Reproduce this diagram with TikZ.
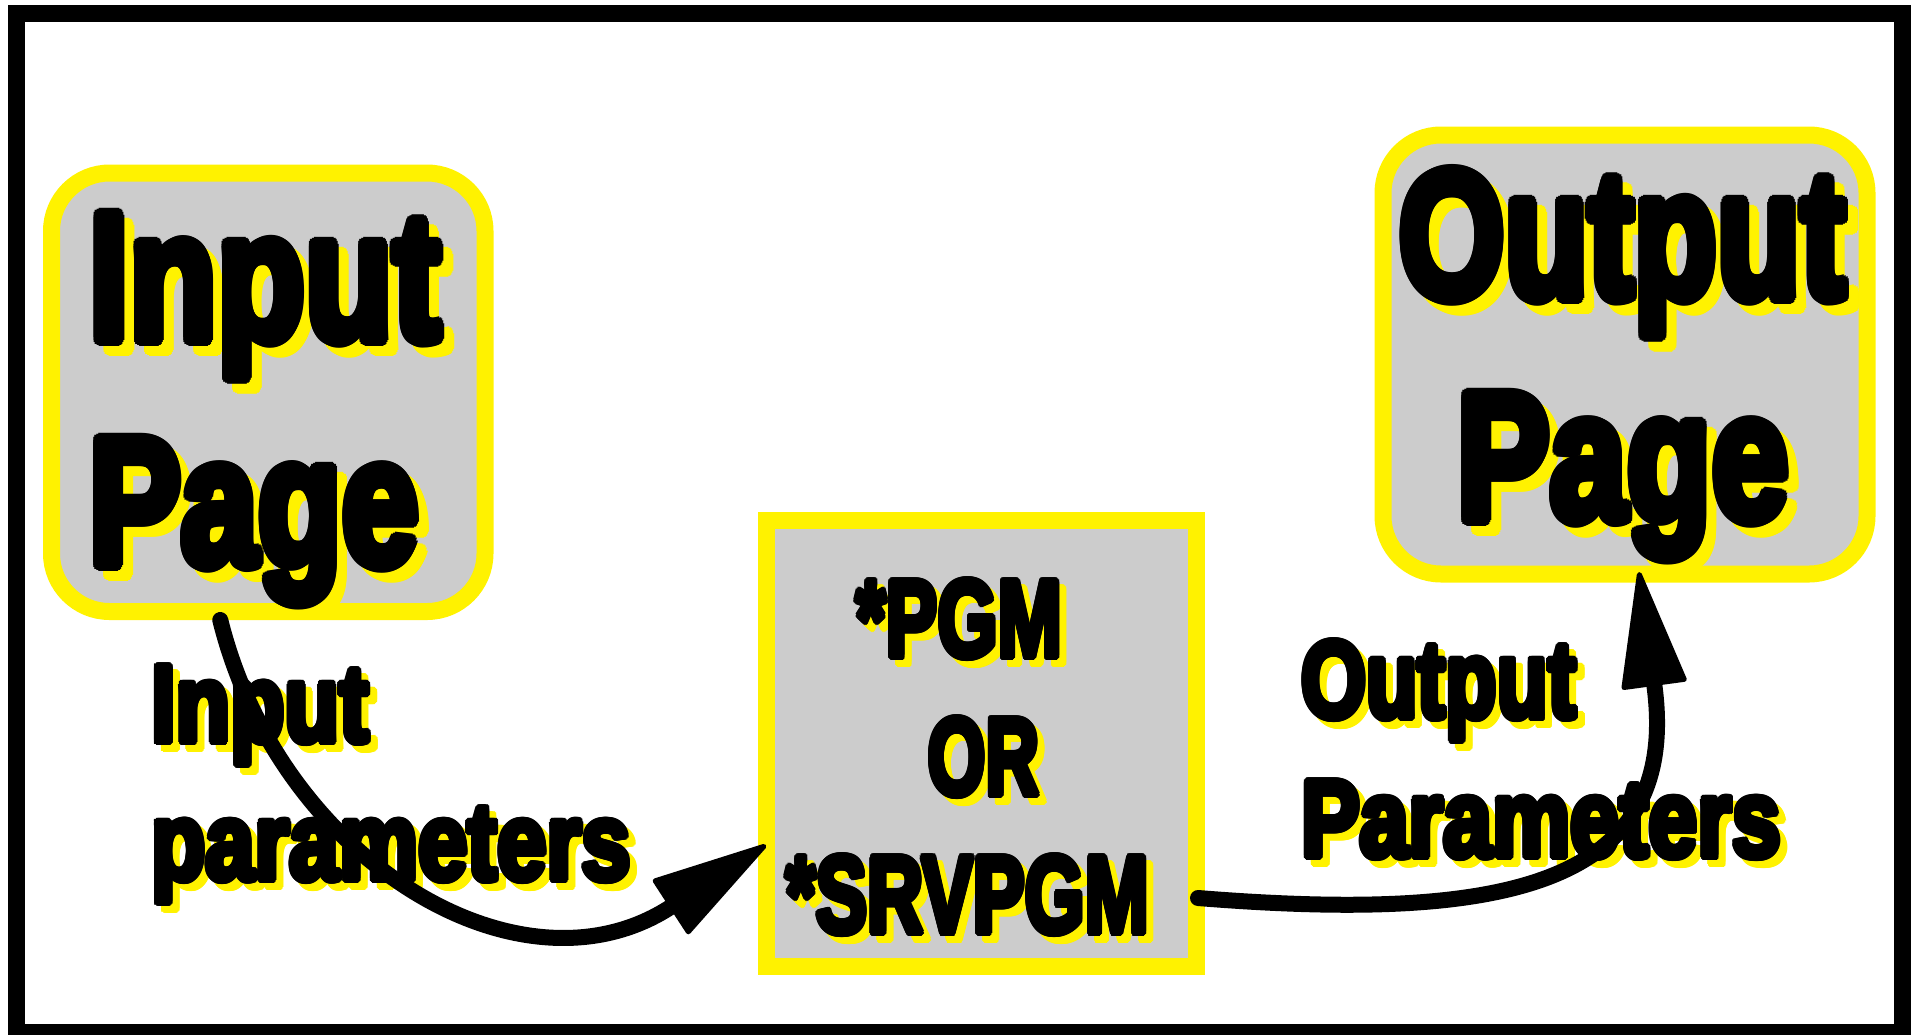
\documentclass[tikz,border=0pt]{standalone}
\usepackage{fontspec}
\usepackage{graphicx}
\usepackage{contour}
\usetikzlibrary{arrows.meta}
\newfontfamily\impact{Liberation Sans Bold}
\contournumber{16}
\contourlength{0.035em}

% heavy text with a yellow drop shadow, squeezed to a given width
\newsavebox\shbox
\newsavebox\shboy
\newcommand{\shtext}[3][7pt]{%
	\sbox\shbox{\resizebox{#2}{\height}{\color{black}\contour{black}{#3}}}%
	\sbox\shboy{\resizebox{#2}{\height}{\color{yellow}\contour{yellow}{#3}}}%
	\rlap{\kern#1\raisebox{-#1}{\usebox\shboy}}\usebox\shbox}

\begin{document}
\begin{tikzpicture}[x=1pt,y=-1pt]
	\tikzstyle{pagebox}=[draw=yellow, line width=17pt, fill=black!20, rounded corners=58pt]
	\tikzstyle{pgmbox}=[draw=yellow, line width=17pt, fill=black!20]
	\tikzstyle{bigtxt}=[inner sep=0, anchor=base west, font=\impact\fontsize{182pt}{182pt}\selectfont]
	\tikzstyle{midtxt}=[inner sep=0, anchor=base west, font=\impact\fontsize{110pt}{110pt}\selectfont]
	\tikzstyle{flow}=[line width=16pt, line cap=round, -{Triangle[length=122pt,width=66pt,round,line width=5pt]}]

	\useasboundingbox (0,0) rectangle (1912,1034);
	\draw[line width=17pt] (16.5,13.5) rectangle (1902.5,1032.5);

	\node[pagebox, minimum width=433.5pt, minimum height=438.5pt] (inpage) at (268.25,392.25) {};
	\node[pagebox, minimum width=484pt, minimum height=439pt] (outpage) at (1625,354.5) {};
	\node[pgmbox, minimum width=430pt, minimum height=446pt] (prog) at (981.5,743.5) {};

	\foreach \name/\x/\y/\w/\txt in {intxta/89/340/352/Input, intxtb/89/565/330/Page, outtxta/1399/298/447/Output, outtxtb/1457/520/332/Page}
		\node[bigtxt] (\name) at (\x,\y) {\shtext[10pt]{\w pt}{\txt}};

	\foreach \name/\x/\y/\w/\txt in {pgma/856/657/206/*PGM, pgmb/928/795/111/OR, pgmc/786/933/363/*SRVPGM, inlbla/151/742/218/Input, inlblb/151/880/480/parameters, outlbla/1301/718/275/Output, outlblb/1301/857/480/Parameters}
		\node[midtxt] (\name) at (\x,\y) {\shtext{\w pt}{\txt}};

	\draw[flow] ([xshift=-48pt]inpage.south) .. controls (280,860) and (520,1005) .. ([xshift=8pt,yshift=-101.5pt]prog.west);
	\draw[flow] ([xshift=-7pt,yshift=-154.5pt]prog.east) .. controls (1498,922) and (1682,889) .. ([xshift=14pt,yshift=10.5pt]outpage.south);
\end{tikzpicture}
\end{document}
